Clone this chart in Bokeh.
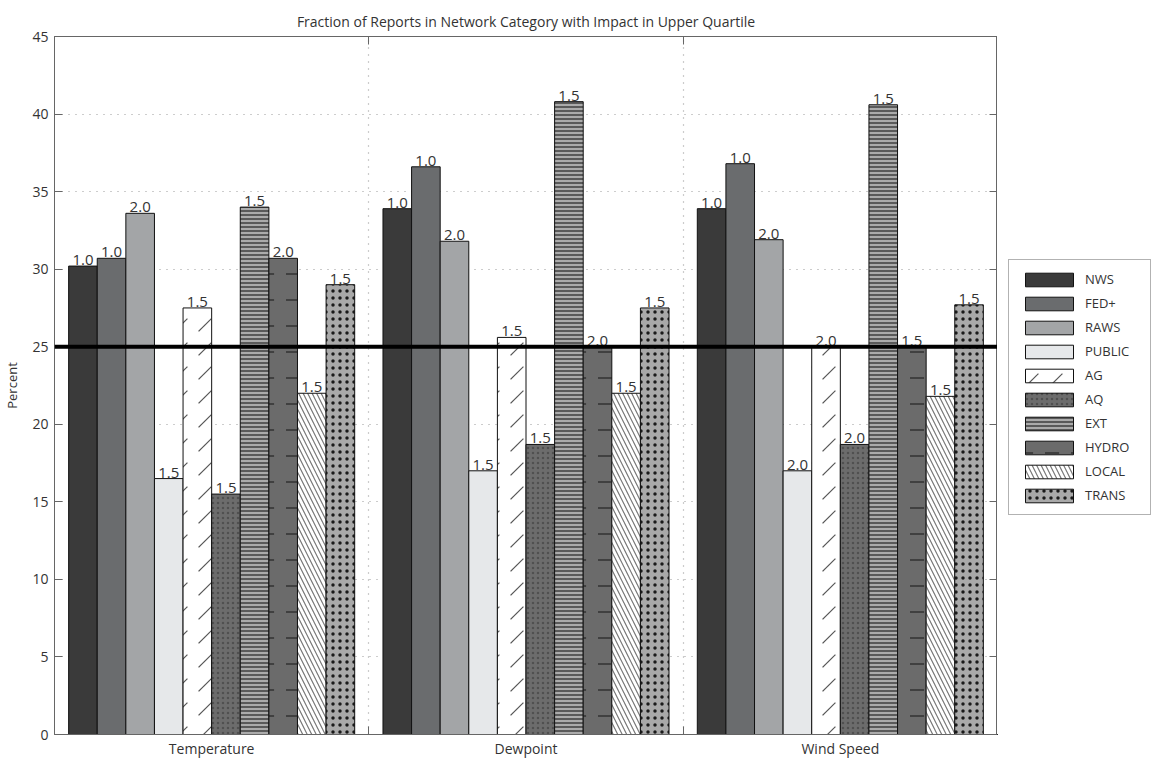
from bokeh.plotting import figure
from bokeh.layouts import row
from bokeh.models import (ColumnDataSource, FixedTicker, LinearAxis, Span, Legend,
                          LegendItem, Range1d)
from bokeh.transform import dodge
from bokeh.core.properties import value
from bokeh.embed import file_html
from bokeh.resources import INLINE

categories = ["Temperature", "Dewpoint", "Wind Speed"]
networks = ["NWS", "FED+", "RAWS", "PUBLIC", "AG", "AQ", "EXT", "HYDRO", "LOCAL", "TRANS"]

temperature = [30.2, 30.7, 33.6, 16.5, 27.5, 15.5, 34.0, 30.7, 22.0, 29.0]
dewpoint = [33.9, 36.6, 31.8, 17.0, 25.6, 18.7, 40.8, 25.0, 22.0, 27.5]
wind_speed = [33.9, 36.8, 31.9, 17.0, 25.0, 18.7, 40.6, 25.0, 21.8, 27.7]

temperature_labels = ["1.0", "1.0", "2.0", "1.5", "1.5", "1.5", "1.5", "2.0", "1.5", "1.5"]
dewpoint_labels = ["1.0", "1.0", "2.0", "1.5", "1.5", "1.5", "1.5", "2.0", "1.5", "1.5"]
wind_speed_labels = ["1.0", "1.0", "2.0", "2.0", "2.0", "2.0", "1.5", "1.5", "1.5", "1.5"]

y_ticks = [0, 5, 10, 15, 20, 25, 30, 35, 40, 45]
reference_level = 25

# styles per network: fill colour, hatch pattern, hatch colour, hatch scale
styles = [
    ("#3a3a3a", None, None, 12),
    ("#6a6c6e", None, None, 12),
    ("#a3a5a7", None, None, 12),
    ("#e6e8ea", None, None, 12),
    ("#ffffff", ",", "#555555", 24),
    ("#6c6c6c", ".", "#505050", 5),
    ("#ababab", "-", "#222222", 4),
    ("#6b6b6b", '"', "#222222", 26),
    ("#ffffff", "\\", "#777777", 9),
    ("#a9a9a9", ".", "#1a1a1a", 7),
]

FONT = "Open Sans"
group_x = [1, 2, 3]
bar_w = 0.091

p = figure(frame_width=943, frame_height=698,
           x_range=Range1d(0.5, 3.5), y_range=Range1d(0, 45),
           output_backend="svg", toolbar_location=None,
           min_border_left=45, min_border_top=36, min_border_bottom=24,
           min_border_right=0,
           title="Fraction of Reports in Network Category with Impact in Upper Quartile",
           x_axis_location=None, y_axis_location=None)

p.title.align = "center"
p.title.text_font = FONT
p.title.text_font_size = "14px"
p.title.text_font_style = "normal"
p.title.text_color = "#333333"
p.title.offset = 0
p.title.standoff = 12

p.outline_line_color = "#666666"
p.background_fill_color = "white"
p.border_fill_color = "white"

xt = FixedTicker(ticks=group_x, minor_ticks=[1.5, 2.5])
yt = FixedTicker(ticks=y_ticks, minor_ticks=[])

def style_axis(ax):
    ax.axis_line_color = "#666666"
    ax.major_tick_line_color = "#666666"
    ax.minor_tick_line_color = "#666666"
    ax.major_label_text_font = FONT
    ax.major_label_text_font_size = "14px"
    ax.major_label_text_color = "#333333"
    ax.axis_label_text_font = FONT
    ax.axis_label_text_font_size = "13px"
    ax.axis_label_text_font_style = "normal"
    ax.axis_label_text_color = "#333333"

bottom = LinearAxis(ticker=xt, major_label_overrides={1: categories[0], 2: categories[1], 3: categories[2]})
style_axis(bottom)
bottom.major_tick_in = 0
bottom.major_tick_out = 0
bottom.minor_tick_in = 8
bottom.minor_tick_out = 0
bottom.major_label_standoff = 4
p.add_layout(bottom, "below")

top = LinearAxis(ticker=xt, major_label_overrides={1: "", 2: "", 3: ""})
style_axis(top)
top.major_tick_in = 0
top.major_tick_out = 0
top.minor_tick_in = 8
top.minor_tick_out = 0
top.major_label_standoff = 0
p.add_layout(top, "above")

left = LinearAxis(ticker=yt, axis_label="Percent")
style_axis(left)
left.major_tick_in = 8
left.major_tick_out = 0
left.minor_tick_in = 0
left.minor_tick_out = 0
left.major_label_standoff = 6
left.axis_label_standoff = 8
p.add_layout(left, "left")

right = LinearAxis(ticker=yt, major_label_overrides={t: "" for t in y_ticks})
style_axis(right)
right.major_tick_in = 8
right.major_tick_out = 0
right.minor_tick_in = 0
right.minor_tick_out = 0
right.major_label_standoff = 0
p.add_layout(right, "right")

# grids
p.xgrid.ticker = xt
p.xgrid.grid_line_color = None
p.xgrid.minor_grid_line_color = "#9a9a9a"
p.xgrid.minor_grid_line_dash = "1 6"
p.xgrid.minor_grid_line_width = 1.2
p.ygrid.ticker = FixedTicker(ticks=y_ticks[1:-1])
p.ygrid.grid_line_color = "#9a9a9a"
p.ygrid.grid_line_dash = "1 6"
p.ygrid.grid_line_width = 1.2

# separate narrow figure that hosts the legend (its frame fills the whole canvas)
lf = figure(width=160, height=760, x_range=Range1d(100, 101), y_range=Range1d(100, 101),
            output_backend="svg", toolbar_location=None,
            min_border=0, x_axis_location=None, y_axis_location=None)
lf.outline_line_color = None
lf.xgrid.visible = False
lf.ygrid.visible = False

series = list(zip(temperature, dewpoint, wind_speed))
label_series = list(zip(temperature_labels, dewpoint_labels, wind_speed_labels))

items = []
for j, name in enumerate(networks):
    src = ColumnDataSource(dict(x=group_x, top=list(series[j]), lab=list(label_series[j])))
    off = (j - 4.5) * bar_w
    fill, hatch, hcol, hscale = styles[j]
    kw = dict(x=dodge("x", off, range=p.x_range), top="top", width=bar_w, bottom=0,
              source=src, fill_color=fill, line_color="#111111", line_width=1)
    if hatch:
        kw.update(hatch_pattern=hatch, hatch_color=hcol, hatch_scale=hscale, hatch_weight=1.2)
    p.vbar(**kw)
    r2 = lf.vbar(**kw)
    items.append(LegendItem(label=name, renderers=[r2]))
    p.text(x=dodge("x", off, range=p.x_range), y="top", text="lab", source=src,
           text_align="center", text_baseline="bottom", y_offset=-1,
           text_font=value(FONT), text_font_size="15px", text_color="#333333")

p.add_layout(Span(location=reference_level, dimension="width", line_color="#000000", line_width=4))

legend = Legend(items=items, location=(11, 219))
legend.border_line_color = "#666666"
legend.glyph_width = 60
legend.glyph_height = 17
legend.label_height = 17
legend.label_width = 55
legend.spacing = 6
legend.padding = 10
legend.margin = 0
legend.label_standoff = 6
legend.label_text_font = FONT
legend.label_text_font_size = "13px"
legend.label_text_color = "#333333"
lf.add_layout(legend, "center")

layout = row(p, lf)
open("out.html", "w").write(file_html(layout, INLINE))
